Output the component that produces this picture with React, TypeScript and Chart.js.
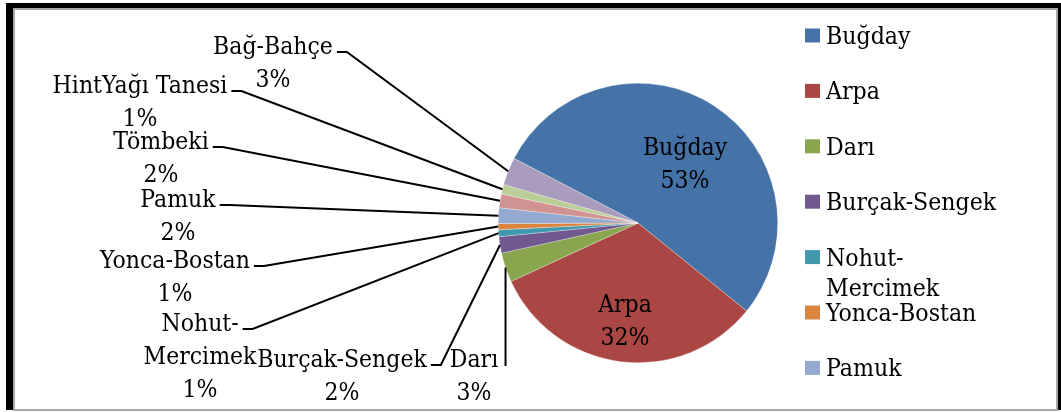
import { useEffect, useRef } from "react";
import { Chart, registerables } from "chart.js";

Chart.register(...registerables);

// ---- data ----
const categories = [
  "Buğday",
  "Arpa",
  "Darı",
  "Burçak-Sengek",
  "Nohut-Mercimek",
  "Yonca-Bostan",
  "Pamuk",
  "Tömbeki",
  "HintYağı Tanesi",
  "Bağ-Bahçe",
];
const shares = [53.2, 32.3, 3.4, 1.9, 0.8, 0.7, 1.8, 1.6, 1.1, 3.2];
const sliceColors = [
  "#4572A7",
  "#AA4643",
  "#89A54E",
  "#71588F",
  "#4198AF",
  "#DB843D",
  "#93A9CF",
  "#D19392",
  "#B9CD96",
  "#A99BBD",
];
const legendVisibleCount = 7;

// ---- label layout (text centre x, first baseline y, leader style) ----
const labelX = [685, 625, 474, 342, 200, 175, 178, 161, 140, 273];
const labelY = [155, 312, 367, 367, 331, 268, 207, 149, 93, 54];
const leaderStyle = [
  "none",
  "none",
  "vertical",
  "elbow",
  "elbow",
  "elbow",
  "elbow",
  "elbow",
  "elbow",
  "elbow",
];

const FONT = '"DejaVu Serif Condensed", "DejaVu Serif", serif';
const LABEL_LINE = 33;
// target text widths used to size the font (as in the picture)
const LABEL_REF_TEXT = "Bağ-Bahçe";
const LABEL_REF_WIDTH = 120;
const LEGEND_REF_TEXT = "Burçak-Sengek";
const LEGEND_REF_WIDTH = 170;

function fitSize(ctx: CanvasRenderingContext2D, text: string, width: number): number {
  ctx.font = `20px ${FONT}`;
  const w = ctx.measureText(text).width;
  return Math.round((20 * width) / w * 10) / 10;
}

function wrapLabel(ctx: CanvasRenderingContext2D, text: string, limit: number): string[] {
  if (ctx.measureText(text).width <= limit) return [text];
  const h = text.indexOf("-");
  if (h > 0) return [text.slice(0, h + 1), text.slice(h + 1)];
  return [text];
}

const labelPlugin = {
  id: "pieLabelsAndLegend",
  afterDraw(chart: any) {
    const ctx: CanvasRenderingContext2D = chart.ctx;
    const meta = chart.getDatasetMeta(0);
    const data = chart.data.datasets[0].data as number[];
    const colors = chart.data.datasets[0].backgroundColor as string[];
    const labels = chart.data.labels as string[];
    const total = data.reduce((a, b) => a + b, 0);
    ctx.save();
    const labelSize = fitSize(ctx, LABEL_REF_TEXT, LABEL_REF_WIDTH);
    const legendSize = fitSize(ctx, LEGEND_REF_TEXT, LEGEND_REF_WIDTH);
    ctx.fillStyle = "#000";
    ctx.strokeStyle = "#000";
    ctx.lineWidth = 2;
    ctx.font = `${labelSize}px ${FONT}`;
    const wrapLimit = ctx.measureText("Burçak-Sengek").width + 1;
    meta.data.forEach((arc: any, i: number) => {
      const p = arc.getProps(["x", "y", "startAngle", "endAngle", "outerRadius"], true);
      const mid = (p.startAngle + p.endAngle) / 2;
      const px = p.x + Math.cos(mid) * p.outerRadius;
      const py = p.y + Math.sin(mid) * p.outerRadius;
      const pct = Math.round((data[i] / total) * 100) + "%";
      const lines = [...wrapLabel(ctx, labels[i], wrapLimit), pct];
      ctx.textAlign = "center";
      ctx.textBaseline = "alphabetic";
      lines.forEach((t, k) => ctx.fillText(t, labelX[i], labelY[i] + k * LABEL_LINE));
      const style = leaderStyle[i];
      if (style === "elbow") {
        const w = ctx.measureText(lines[0]).width;
        const sx = labelX[i] + w / 2 + 4;
        const sy = labelY[i] - 2;
        ctx.beginPath();
        ctx.moveTo(sx, sy);
        ctx.lineTo(sx + 10, sy);
        ctx.lineTo(px, py);
        ctx.stroke();
      } else if (style === "vertical") {
        ctx.beginPath();
        ctx.moveTo(px, labelY[i] - 1);
        ctx.lineTo(px, py);
        ctx.stroke();
      }
    });

    // legend (only the entries that fit in the frame)
    ctx.font = `${legendSize}px ${FONT}`;
    ctx.textAlign = "left";
    const legendWrap = ctx.measureText("Burçak-Sengek").width + 1;
    for (let i = 0; i < Math.min(legendVisibleCount, labels.length); i++) {
      const cy = 35.5 + i * 55.4;
      ctx.fillStyle = colors[i];
      ctx.fillRect(805, cy - 7, 15, 14);
      ctx.fillStyle = "#000";
      const lines = wrapLabel(ctx, labels[i], legendWrap);
      lines.forEach((t, k) => ctx.fillText(t, 826, cy + 8.5 + k * 30));
    }
    ctx.restore();
  },
};

export default function App() {
  const canvasRef = useRef<HTMLCanvasElement | null>(null);

  useEffect(() => {
    const canvas = canvasRef.current;
    if (!canvas) return;
    const chart = new Chart(canvas, {
      type: "pie",
      data: {
        labels: categories,
        datasets: [
          {
            data: shares,
            backgroundColor: sliceColors,
            borderColor: "rgba(255,255,255,0.6)",
            borderWidth: 0.5,
            hoverOffset: 0,
            offset: 0,
          },
        ],
      },
      options: {
        responsive: false,
        animation: false,
        events: [],
        rotation: -62.5,
        layout: { padding: { left: 498, right: 283, top: 83, bottom: 49 } },
        plugins: {
          legend: { display: false },
          tooltip: { enabled: false },
          title: { display: false },
        },
      },
      plugins: [labelPlugin],
    });
    return () => chart.destroy();
  }, []);

  return (
    <div
      style={{
        position: "fixed",
        left: 0,
        top: 0,
        width: 1061,
        height: 412,
        background: "#fff",
        overflow: "hidden",
      }}
    >
      <div
        style={{
          position: "absolute",
          left: 6,
          top: 3,
          width: 1055,
          height: 407,
          background: "#000",
        }}
      />
      <div
        style={{
          position: "absolute",
          left: 13,
          top: 8,
          width: 1045,
          height: 403,
          boxSizing: "border-box",
          border: "2px solid #a6a6a6",
          background: "#fff",
        }}
      />
      <canvas
        ref={canvasRef}
        width={1061}
        height={412}
        style={{ position: "absolute", left: 0, top: 0 }}
      />
    </div>
  );
}
